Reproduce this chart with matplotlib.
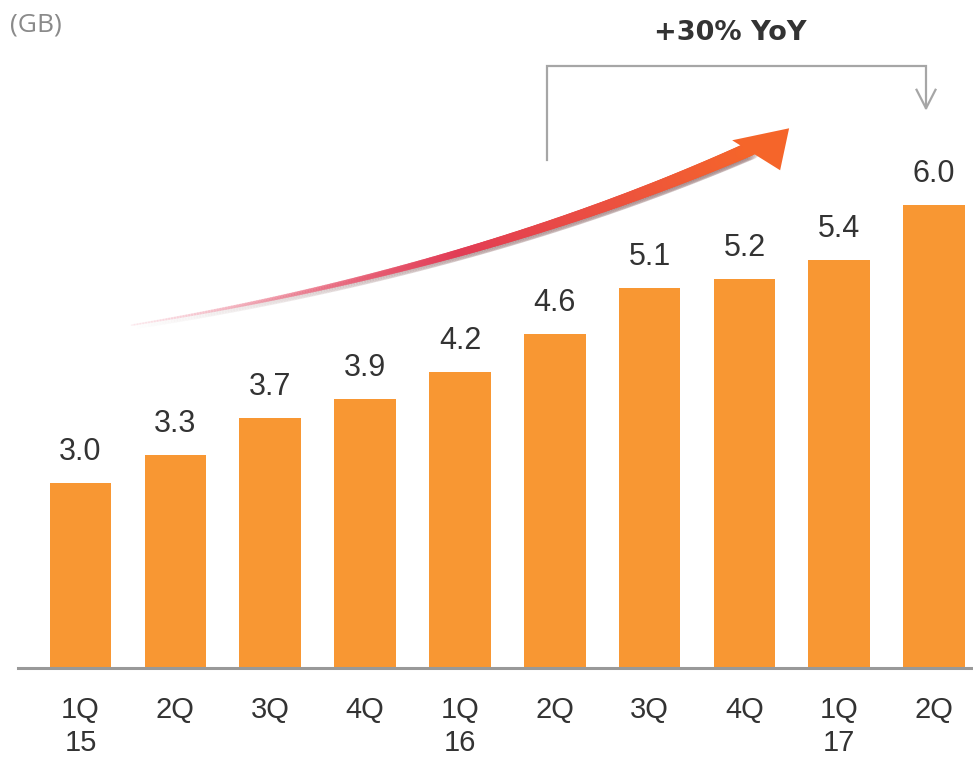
import numpy as np
import matplotlib
matplotlib.use("Agg")
import matplotlib.pyplot as plt
from matplotlib.collections import LineCollection
from matplotlib.patches import Polygon
from matplotlib.colors import to_rgba

# Quarterly data usage per subscriber (GB)
quarters = ["1Q\n15", "2Q", "3Q", "4Q", "1Q\n16", "2Q", "3Q", "4Q", "1Q\n17", "2Q"]
usage_gb = [3.0, 3.3, 3.7, 3.9, 4.2, 4.6, 5.1, 5.2, 5.4, 6.0]
growth_label = "+30% YoY"
unit_label = "(GB)"

BAR_COLOR = "#F89733"
TEXT_COLOR = "#333333"

fig = plt.figure(figsize=(9.73, 7.64), dpi=100)
ax = fig.add_axes([0.0185, 0.1257, 0.9815, 0.8743])

x = np.arange(len(usage_gb))
base = 1.0
ax.bar(x, np.array(usage_gb) - base, bottom=base, width=0.65, color=BAR_COLOR, zorder=2)

ax.set_xlim(-0.66, 9.41)
ax.set_ylim(base, 8.21)

for xi, v in zip(x, usage_gb):
    ax.annotate(f"{v:.1f}", (xi, v), xytext=(0, 31), textcoords="offset pixels",
                ha="center", va="center", fontsize=22, color=TEXT_COLOR,
                family="Liberation Sans")

for s in ["top", "right", "left"]:
    ax.spines[s].set_visible(False)
ax.spines["bottom"].set_color("#999999")
ax.spines["bottom"].set_linewidth(2.2)
ax.set_yticks([])
ax.set_xticks(x)
ax.set_xticklabels(quarters, fontsize=21, color=TEXT_COLOR, family="Liberation Sans",
                   linespacing=1.25, va="top")
ax.tick_params(axis="x", length=0, pad=20)

# Curved growth arrow (quadratic Bezier in data space) with a colour/width ramp
def px_to_data(px, py):
    return ((px - 81.0) / 94.9, base + (668.0 - py) / 92.7)

p0 = np.array(px_to_data(132, 325))
p1 = np.array(px_to_data(480, 268))
p2 = np.array(px_to_data(752, 148))
t = np.linspace(0, 1, 240)[:, None]
curve = (1 - t) ** 2 * p0 + 2 * (1 - t) * t * p1 + t ** 2 * p2
segs = np.stack([curve[:-1], curve[1:]], axis=1)
tt = t[:-1, 0]
c_start = np.array(to_rgba("#F3A7B8"))
c_mid = np.array(to_rgba("#E23C55"))
c_end = np.array(to_rgba("#F5652A"))
cols = []
for v in tt:
    if v < 0.5:
        c = c_start + (c_mid - c_start) * (v / 0.5)
    else:
        c = c_mid + (c_end - c_mid) * ((v - 0.5) / 0.5)
    c = c.copy()
    c[3] = min(1.0, 0.15 + 1.6 * v)
    cols.append(c)
widths = 1.2 + 9.0 * tt ** 1.1
shadow = LineCollection(segs + np.array([0.01, -0.03]), linewidths=widths + 1.5,
                        colors=[(0.4, 0.2, 0.2, 0.12 * min(1, 2 * v)) for v in tt],
                        capstyle="round", zorder=3)
ax.add_collection(shadow)
ax.add_collection(LineCollection(segs, linewidths=widths, colors=cols,
                                 capstyle="round", zorder=4))
head = [px_to_data(790, 128), px_to_data(733, 140), px_to_data(781, 170)]
ax.add_patch(Polygon(head, closed=True, facecolor="#F5652A", edgecolor="none", zorder=5))

# YoY bracket from 2Q16 to 2Q17
bl = px_to_data(548, 160)
top_y = px_to_data(0, 66)[1]
br = px_to_data(927, 108)
ax.plot([bl[0], bl[0], br[0], br[0]], [bl[1], top_y, top_y, br[1]],
        color="#A6A6A6", lw=1.6, zorder=3, solid_joinstyle="miter")
dx, dy = 0.1, 0.2
ax.plot([br[0] - dx, br[0], br[0] + dx], [br[1] + dy, br[1], br[1] + dy],
        color="#A6A6A6", lw=1.6, zorder=3)
tx, ty = px_to_data(731, 33)
ax.text(tx, ty, growth_label, ha="center", va="center", fontsize=19.5,
        fontweight="bold", color=TEXT_COLOR, family="DejaVu Sans")

fig.text(10 / 973, 1 - 25 / 764, unit_label, ha="left", va="center", fontsize=19,
         color="#8A8A8A", family="Open Sans")

fig.savefig("out.png", dpi=100, facecolor="white")
